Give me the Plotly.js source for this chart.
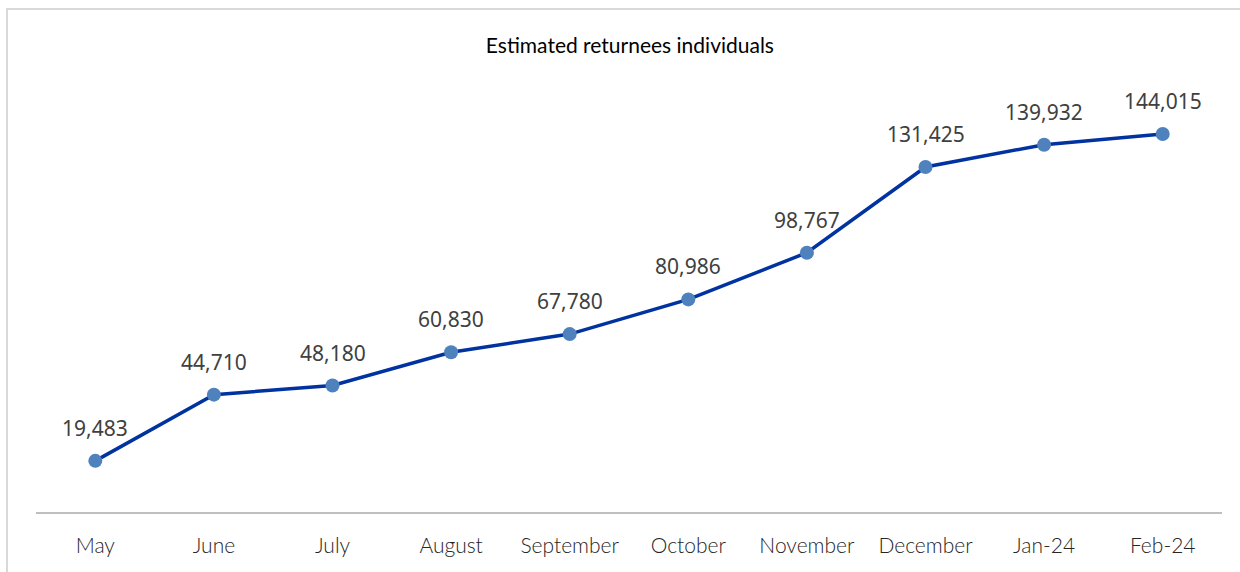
<!DOCTYPE html>
<html>
<head>
<meta charset="utf-8">
<script src="https://cdn.plot.ly/plotly-3.0.1.min.js"></script>
<style>
  html, body { margin: 0; padding: 0; background: #ffffff; overflow: hidden; }
  #frame { position: absolute; left: 6px; top: 8px; width: 1300px; height: 700px; border: 2px solid #d9d9d9; box-sizing: border-box; }
  #chart { position: absolute; left: 0; top: 0; width: 1240px; height: 572px; }
</style>
</head>
<body>
<div id="frame"></div>
<div id="chart"></div>
<script>
const categories = ["May", "June", "July", "August", "September", "October", "November", "December", "Jan-24", "Feb-24"];
const returnees = [19483, 44710, 48180, 60830, 67780, 80986, 98767, 131425, 139932, 144015];
const chartTitle = "Estimated returnees individuals";

const trace = {
  type: "scatter",
  mode: "lines+markers",
  x: categories,
  y: returnees,
  line: { color: "#0033a0", width: 3.5 },
  marker: { color: "#4f81bd", size: 14 },
  hoverinfo: "x+y",
  cliponaxis: false
};

const annotations = categories.map((c, i) => ({
  x: c,
  y: returnees[i],
  xref: "x",
  yref: "y",
  text: returnees[i].toLocaleString("en-US"),
  showarrow: false,
  yshift: 33,
  font: { family: "Noto Sans, sans-serif", size: 21, color: "#404040", weight: 400 }
}));

const layout = {
  width: 1240,
  height: 572,
  margin: { l: 36, r: 18, t: 92, b: 60 },
  paper_bgcolor: "rgba(0,0,0,0)",
  plot_bgcolor: "rgba(0,0,0,0)",
  showlegend: false,
  title: {
    text: chartTitle,
    font: { family: "Lato, sans-serif", size: 21, color: "#000000" },
    x: 0.508,
    xanchor: "center",
    y: 0.921,
    yanchor: "middle"
  },
  xaxis: {
    type: "category",
    range: [-0.5, 9.5],
    showgrid: false,
    zeroline: false,
    showline: true,
    linecolor: "#bfbfbf",
    linewidth: 2,
    ticks: "",
    ticklabelstandoff: 14,
    tickfont: { family: "Lato, sans-serif", size: 21, color: "#262626", weight: 300 },
    fixedrange: true
  },
  yaxis: {
    range: [0, 160000],
    showgrid: false,
    zeroline: false,
    showline: false,
    showticklabels: false,
    ticks: "",
    fixedrange: true
  },
  annotations: annotations
};

Plotly.newPlot("chart", [trace], layout, { displayModeBar: false, staticPlot: true });
</script>
</body>
</html>
